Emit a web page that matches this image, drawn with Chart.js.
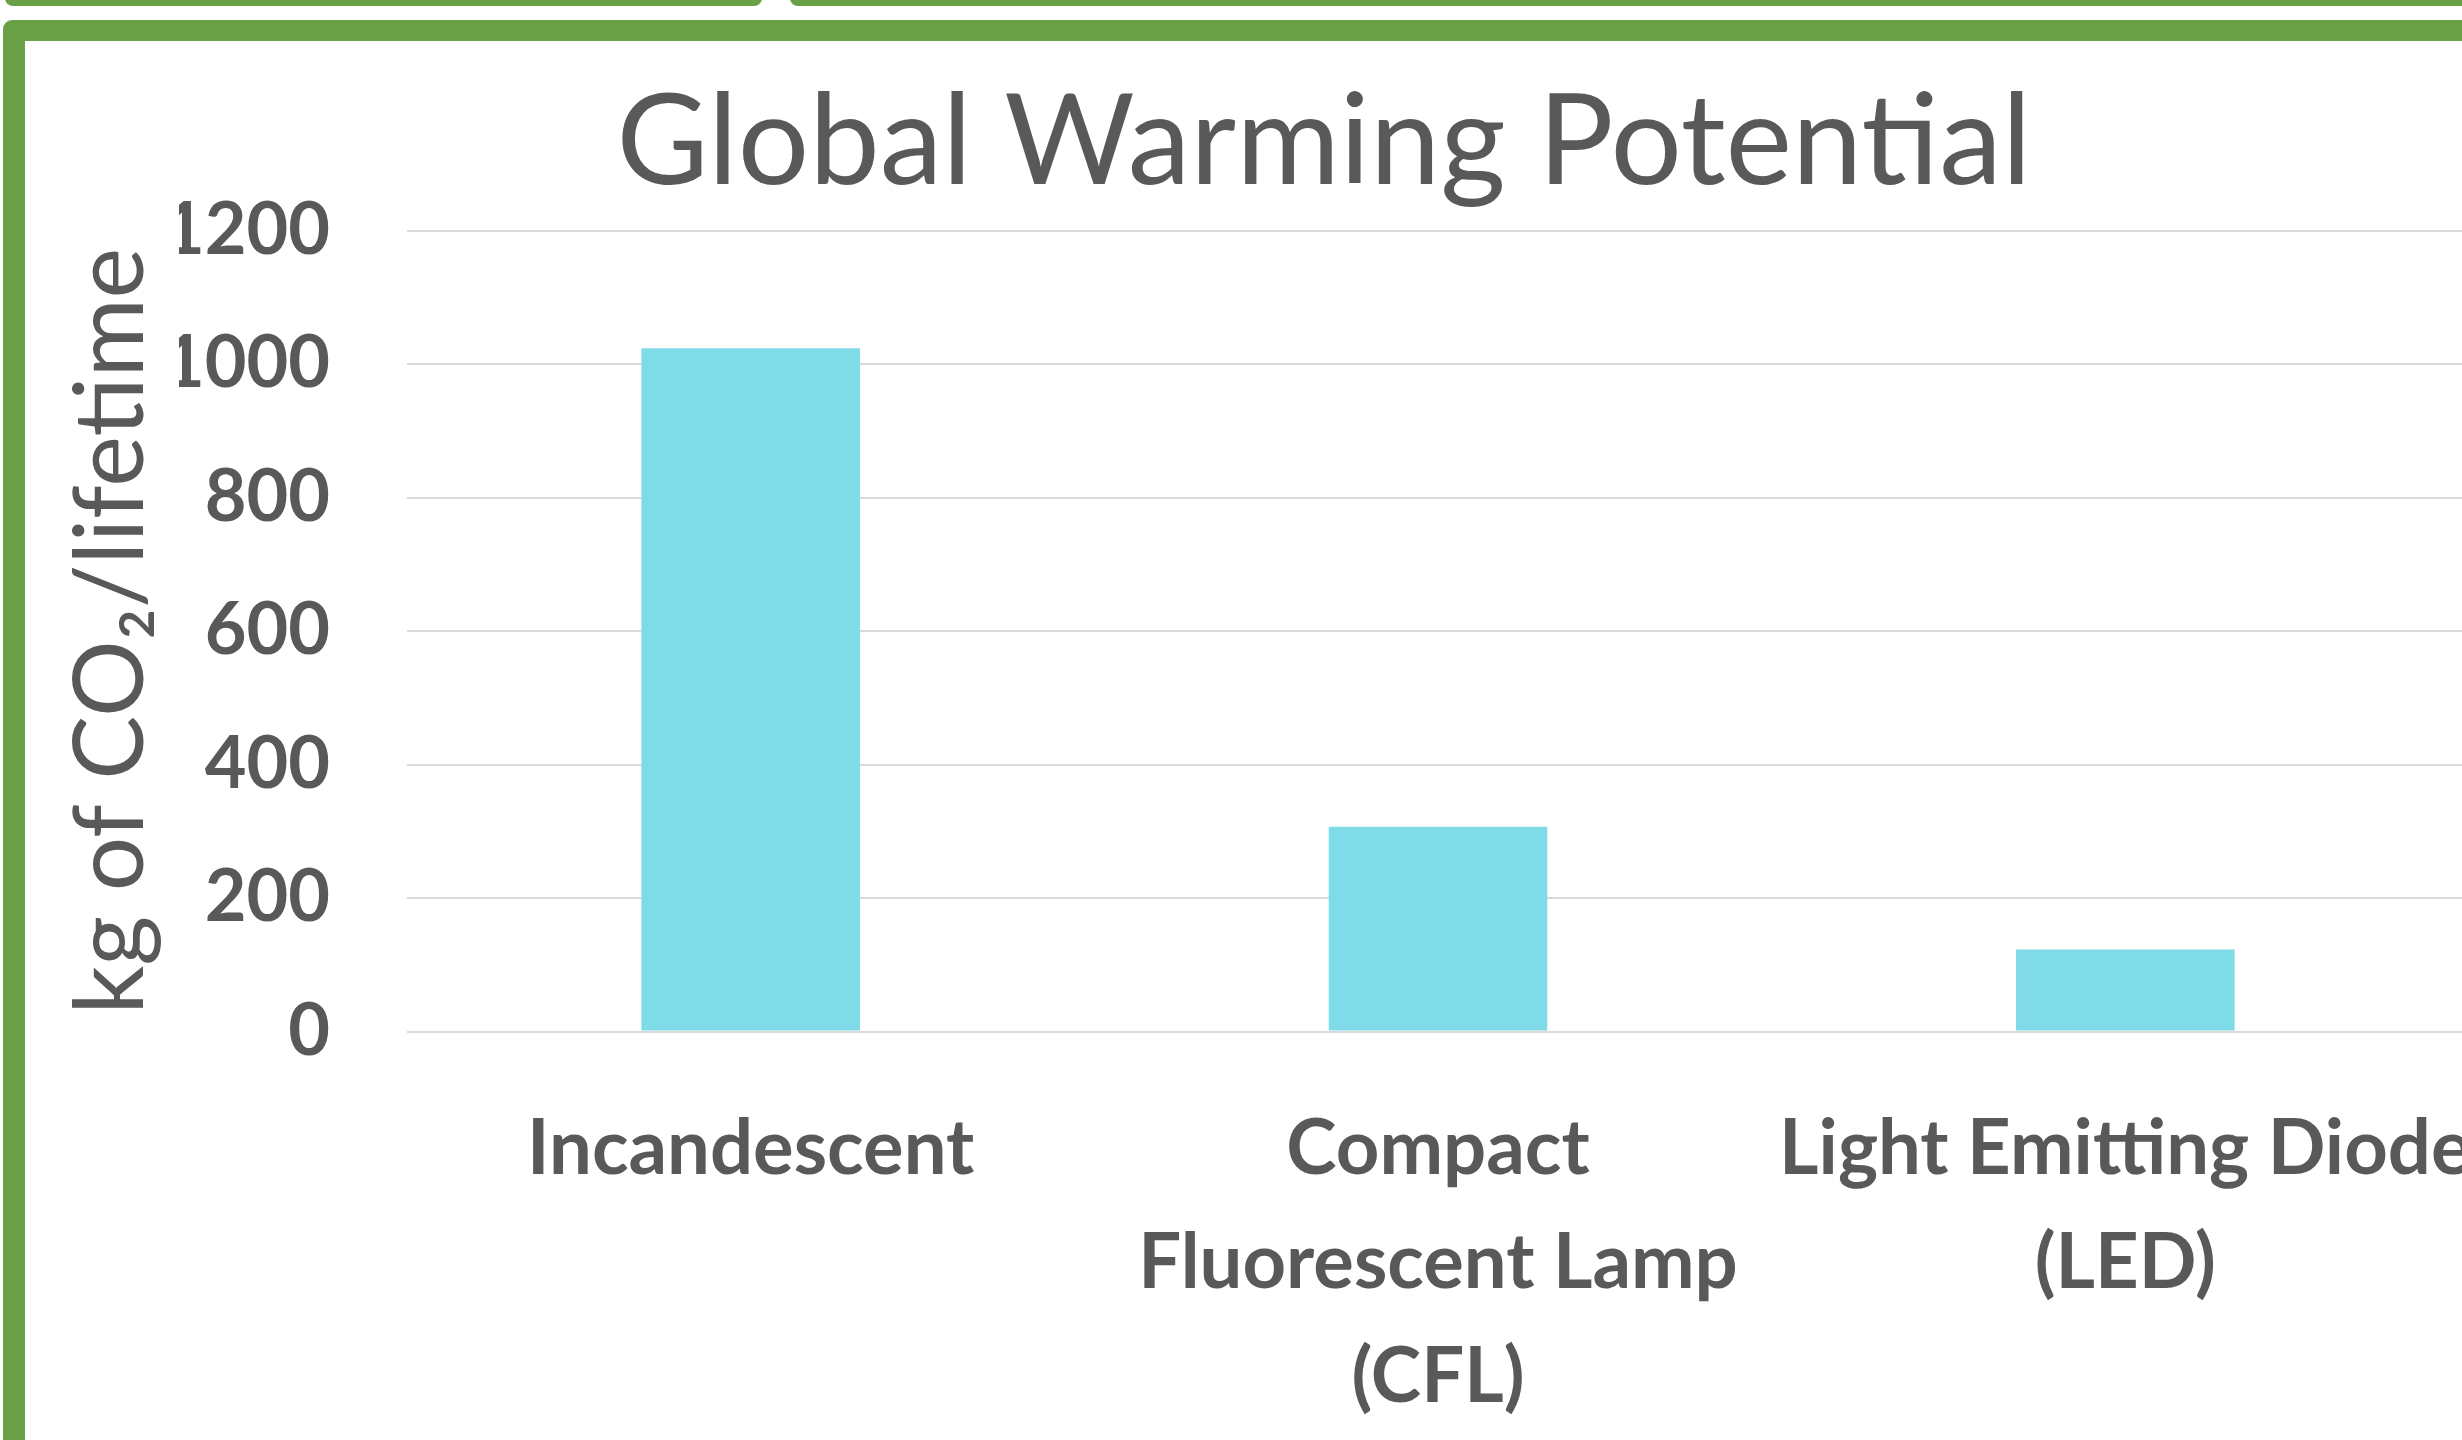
<!DOCTYPE html>
<html>
<head>
<meta charset="utf-8">
<title>Global Warming Potential</title>
<script src="https://cdn.jsdelivr.net/npm/chart.js@4.4.0/dist/chart.umd.min.js"></script>
<style>
  html, body { margin: 0; padding: 0; background: #fff; width: 2462px; height: 1440px; overflow: hidden; position: relative; }
  .tab { position: absolute; top: -20px; height: 26px; background: #6aa147; border-radius: 8px; }
  #frame {
    position: absolute; left: 3px; top: 20px; width: 2700px; height: 1600px;
    border-style: solid; border-color: #6aa147; border-width: 21px 22px 22px 22px;
    border-radius: 9px; background: #fff;
  }
  #c { position: absolute; left: 25px; top: 41px; }
</style>
</head>
<body>
<div class="tab" style="left:5px;width:757px"></div>
<div class="tab" style="left:790px;width:1800px"></div>
<div id="frame"></div>
<canvas id="c" width="2700" height="1420"></canvas>
<script>
// Lifetime CO2 emissions per lamp type
const categories = [
  ['Incandescent'],
  ['Compact', 'Fluorescent Lamp', '(CFL)'],
  ['Light Emitting Diode', '(LED)']
];
const co2PerLifetime = [1024, 307, 123];
const chartTitle = 'Global Warming Potential';
const yAxisTitle = 'kg of CO\u2082/lifetime';
const yMin = 0;
const yMax = 1200;
const yStep = 200;

const ink = '#595959';
const gridGrey = '#d9d9d9';
const barCyan = '#7fdbe7';

function draw() {
  const ctx = document.getElementById('c').getContext('2d');
  new Chart(ctx, {
    type: 'bar',
    data: {
      labels: categories,
      datasets: [{
        data: co2PerLifetime,
        backgroundColor: barCyan,
        borderWidth: 0,
        categoryPercentage: 1,
        barPercentage: 0.318
      }]
    },
    options: {
      responsive: false,
      animation: false,
      devicePixelRatio: 1,
      layout: { padding: { left: 154, right: 256, top: 0, bottom: 0 } },
      plugins: {
        legend: { display: false },
        tooltip: { enabled: false },
        title: {
          display: true,
          text: chartTitle,
          color: ink,
          font: { family: 'Lato', size: 126, weight: 'normal', lineHeight: 1.2 },
          padding: { top: 26.5, bottom: 12 }
        }
      },
      scales: {
        x: {
          grid: { display: false },
          border: { display: false },
          ticks: {
            color: ink,
            font: { family: 'Lato', size: 76, weight: 'bold', lineHeight: 1.5 },
            padding: 53,
            autoSkip: false,
            maxRotation: 0,
            minRotation: 0
          },
          afterFit: (s) => { s.height = 429.4; }
        },
        y: {
          min: yMin,
          max: yMax,
          ticks: {
            stepSize: yStep,
            color: ink,
            font: { family: 'Lato', size: 72, weight: 'bold' },
            padding: 77,
            callback: (v) => String(v)
          },
          grid: { color: gridGrey, lineWidth: 2, drawTicks: false },
          border: { display: false },
          title: {
            display: true,
            text: yAxisTitle,
            color: ink,
            font: { family: 'Lato', size: 96, weight: 'normal', lineHeight: 1.2 },
            padding: { top: -124.6, bottom: 0 }
          },
          afterFit: (s) => { s.width = 228; }
        }
      }
    }
  });
}

Promise.all([
  document.fonts.load('400 96px Lato'),
  document.fonts.load('700 73px Lato')
]).then(draw, draw);
</script>
</body>
</html>
